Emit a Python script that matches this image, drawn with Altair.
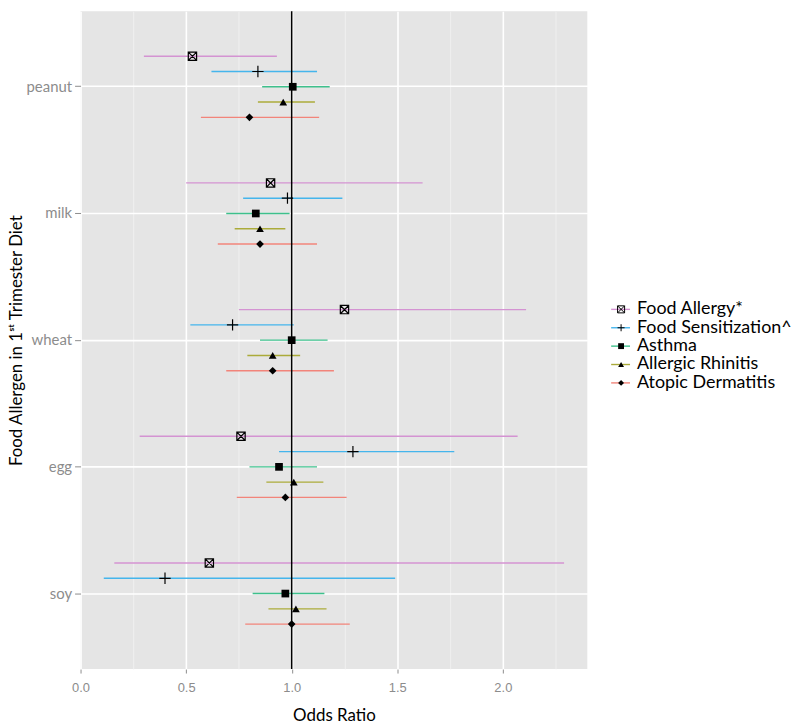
import altair as alt
import pandas as pd

allergens = ["peanut", "milk", "wheat", "egg", "soy"]
outcomes = ["Food Allergy*", "Food Sensitization^", "Asthma", "Allergic Rhinitis", "Atopic Dermatitis"]
colors = ["#D493D2", "#45B5EC", "#3EC08C", "#ABAB3A", "#F2847A"]
shapes = [
    "M-1,-1L1,-1L1,1L-1,1Z M-1,-1L1,1 M1,-1L-1,1",
    "M-1,0L1,0 M0,-1L0,1",
    "square",
    "triangle-up",
    "diamond",
]

# odds ratios and 95% CI per outcome (allergen order: peanut, milk, wheat, egg, soy)
or_food_allergy = [0.53, 0.90, 1.25, 0.76, 0.61]
lo_food_allergy = [0.30, 0.50, 0.75, 0.28, 0.16]
hi_food_allergy = [0.93, 1.62, 2.11, 2.07, 2.29]

or_food_sens = [0.84, 0.98, 0.72, 1.29, 0.40]
lo_food_sens = [0.62, 0.77, 0.52, 0.94, 0.11]
hi_food_sens = [1.12, 1.24, 1.01, 1.77, 1.49]

or_asthma = [1.005, 0.83, 1.00, 0.94, 0.97]
lo_asthma = [0.86, 0.69, 0.85, 0.80, 0.815]
hi_asthma = [1.18, 0.99, 1.17, 1.12, 1.155]

or_rhinitis = [0.96, 0.85, 0.91, 1.01, 1.02]
lo_rhinitis = [0.84, 0.73, 0.79, 0.88, 0.89]
hi_rhinitis = [1.11, 0.97, 1.04, 1.15, 1.165]

or_dermatitis = [0.80, 0.85, 0.91, 0.97, 1.00]
lo_dermatitis = [0.57, 0.65, 0.69, 0.74, 0.78]
hi_dermatitis = [1.13, 1.12, 1.20, 1.26, 1.275]

x_ticks = [0.0, 0.25, 0.5, 0.75, 1.0, 1.25, 1.5, 1.75, 2.0, 2.25]
x_domain = [0.0, 2.4]
reference_or = [1.0]

series = [
    (or_food_allergy, lo_food_allergy, hi_food_allergy),
    (or_food_sens, lo_food_sens, hi_food_sens),
    (or_asthma, lo_asthma, hi_asthma),
    (or_rhinitis, lo_rhinitis, hi_rhinitis),
    (or_dermatitis, lo_dermatitis, hi_dermatitis),
]
rows = []
for name, (o, l, h) in zip(outcomes, series):
    for i, a in enumerate(allergens):
        rows.append({"allergen": a, "outcome": name, "or": o[i], "lo": l[i], "hi": h[i]})
df = pd.DataFrame(rows)
ref_df = pd.DataFrame({"or": reference_or})
leg_df = pd.DataFrame({"outcome": outcomes})

FONT = "Lato"
minor_test = "datum.value % 0.5 != 0"

x_axis = alt.Axis(
    values=x_ticks,
    labelExpr="datum.value % 0.5 == 0 ? format(datum.value, '.1f') : ''",
    labelFlush=False,
    title="Odds Ratio",
    titleFont=FONT, titleFontSize=17, titleFontWeight="normal", titleColor="black",
    titlePadding=13,
    labelFont="Liberation Sans", labelFontSize=13, labelColor="#8C8C8C", labelPadding=9,
    tickColor="#8C8C8C", tickSize=4,
    tickOpacity={"condition": {"test": minor_test, "value": 0}, "value": 1},
    grid=True,
    gridColor={"condition": {"test": minor_test, "value": "#F3F3F3"}, "value": "#FFFFFF"},
    gridWidth={"condition": {"test": minor_test, "value": 0.8}, "value": 1.6},
    domain=False,
)

y_axis = alt.Axis(
    title="Food Allergen in 1ˢᵗ Trimester Diet",
    titleFont=FONT, titleFontSize=17, titleFontWeight="normal", titleColor="black",
    titleX=-64, titleBaseline="middle",
    labelFont=FONT, labelFontSize=15, labelColor="#8C8C8C", labelPadding=3,
    tickColor="#8C8C8C", tickSize=6,
    grid=True, gridColor="#FFFFFF", gridWidth=1.6, bandPosition=0.5,
    domain=False, minExtent=72, maxExtent=72,
)

x_enc = alt.X("lo:Q", scale=alt.Scale(domain=x_domain, nice=False, zero=False), axis=x_axis)
y_enc = alt.Y("allergen:N", sort=allergens,
              scale=alt.Scale(domain=allergens, type="band", paddingInner=0, paddingOuter=0.096),
              axis=y_axis)
yoff_enc = alt.YOffset("outcome:N", sort=outcomes,
                       scale=alt.Scale(domain=outcomes, type="point", padding=0, range=[33.0, 94.5]))
color_enc = alt.Color("outcome:N", scale=alt.Scale(domain=outcomes, range=colors), legend=None)
shape_enc = alt.Shape("outcome:N", scale=alt.Scale(domain=outcomes, range=shapes), legend=None)

base = alt.Chart(df)

ci = base.mark_rule(strokeWidth=1.4).encode(
    x=x_enc, x2="hi:Q", y=y_enc, yOffset=yoff_enc, color=color_enc
)

ref = alt.Chart(ref_df).mark_rule(color="black", strokeWidth=1.5).encode(x=alt.X("or:Q"))

open_pts = base.mark_point(filled=False, color="black", strokeWidth=1.2, opacity=1).encode(
    x=alt.X("or:Q"), y=y_enc, yOffset=yoff_enc, shape=shape_enc,
    size=alt.Size("outcome:N", scale=alt.Scale(domain=outcomes[:2], range=[70, 130]), legend=None),
).transform_filter(alt.FieldOneOfPredicate(field="outcome", oneOf=outcomes[:2]))

filled_pts = base.mark_point(filled=True, color="black", opacity=1).encode(
    x=alt.X("or:Q"), y=y_enc, yOffset=yoff_enc, shape=shape_enc,
    size=alt.value(60),
).transform_filter(alt.FieldOneOfPredicate(field="outcome", oneOf=outcomes[2:]))

main = alt.layer(ci, ref, open_pts, filled_pts).properties(
    width=510, height=662,
    view=alt.ViewBackground(fill="#E5E5E5", stroke=None),
)

leg_y = alt.Y("outcome:N", sort=outcomes,
              scale=alt.Scale(domain=outcomes, type="point", padding=0, range=[300, 374]), axis=None)
leg_base = alt.Chart(leg_df)
leg_line = leg_base.mark_rule(strokeWidth=1.4).encode(
    x=alt.value(14), x2=alt.value(33), y=leg_y, color=color_enc
)
leg_open = leg_base.mark_point(filled=False, color="black", strokeWidth=1.0, opacity=1, size=50).encode(
    x=alt.value(24), y=leg_y, shape=shape_enc
).transform_filter(alt.FieldOneOfPredicate(field="outcome", oneOf=outcomes[:2]))
leg_filled = leg_base.mark_point(filled=True, color="black", opacity=1, size=35).encode(
    x=alt.value(24), y=leg_y, shape=shape_enc
).transform_filter(alt.FieldOneOfPredicate(field="outcome", oneOf=outcomes[2:]))
leg_text = leg_base.mark_text(align="left", baseline="middle", font=FONT, fontSize=18, color="black").encode(
    x=alt.value(40), y=leg_y, text="outcome:N"
)
legend_panel = alt.layer(leg_line, leg_open, leg_filled, leg_text).properties(
    width=190, height=662,
    view=alt.ViewBackground(fill=None, stroke=None),
)

chart = alt.hconcat(main, legend_panel, spacing=10).properties(
    padding=0, background="white"
).configure_view(stroke=None)

chart.save("out.html", embed_options={"renderer": "svg", "actions": False})
